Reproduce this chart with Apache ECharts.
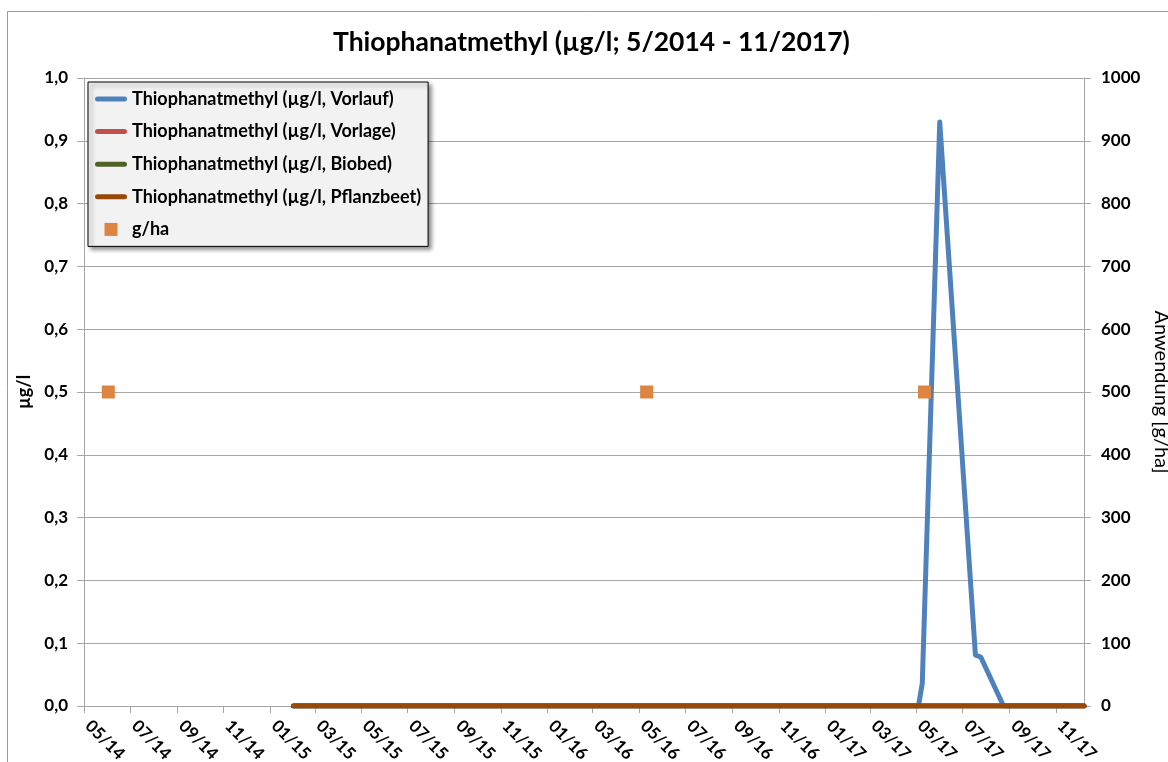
<!DOCTYPE html>
<html><head><meta charset="utf-8">
<script src="https://cdn.jsdelivr.net/npm/echarts@6/dist/echarts.min.js"></script>
<style>html,body{margin:0;padding:0;background:#fff}#c{width:1168px;height:762px}</style>
</head><body><div id="c"></div>
<script>
const titleText = 'Thiophanatmethyl (µg/l; 5/2014 - 11/2017)';
const leftAxisName = 'µg/l';
const rightAxisName = 'Anwendung [g/ha]';
const seriesNames = [
  'Thiophanatmethyl (µg/l, Vorlauf)',
  'Thiophanatmethyl (µg/l, Vorlage)',
  'Thiophanatmethyl (µg/l, Biobed)',
  'Thiophanatmethyl (µg/l, Pflanzbeet)',
  'g/ha'
];
const tickLabels = ['05/14','07/14','09/14','11/14','01/15','03/15','05/15','07/15','09/15','11/15',
  '01/16','03/16','05/16','07/16','09/16','11/16','01/17','03/17','05/17','07/17','09/17','11/17'];
const axisStart = '2014-05-01';
const axisEnd = '2017-12-08';

const vorlaufDates  = ['2015-02-01','2017-05-04','2017-05-09','2017-06-01','2017-06-27','2017-07-18','2017-07-25','2017-08-24','2017-12-08'];
const vorlaufValues = [0, 0, 0.036, 0.93, 0.46, 0.081, 0.078, 0, 0];
const vorlageDates  = ['2015-02-01','2017-12-08'];
const vorlageValues = [0, 0];
const biobedDates   = ['2015-02-01','2017-12-08'];
const biobedValues  = [0, 0];
const pflanzDates   = ['2015-02-01','2017-12-08'];
const pflanzValues  = [0, 0];
const applicationDates  = ['2014-06-02','2016-05-11','2017-05-12'];
const applicationValues = [500, 500, 500];

const colors = ['#4f81bd','#c0504d','#4f6228','#984807','#dd8440'];
const FONT = 'Lato, "Liberation Sans", sans-serif';
const LINE_ICON = 'path://M2.5,0 L29.5,0 A2.5,2.5 0 0 1 29.5,5 L2.5,5 A2.5,2.5 0 0 1 2.5,0 Z';
const SQUARE_ICON = 'path://M0,0 L10,0 L10,10 L0,10 Z';

function toTime(s){ const [y,m,d] = s.split('-').map(Number); return Date.UTC(y, m-1, d); }
function pairs(d, v){ return d.map((x,i)=>[toTime(x), v[i]]); }
function tickTime(lbl){ const [m,y] = lbl.split('/').map(Number); return Date.UTC(2000+y, m-1, 1); }
const tickTimes = tickLabels.map(tickTime);
function fmtTick(val){
  const i = tickTimes.findIndex(t => Math.abs(t - val) < 86400000);
  return i >= 0 ? tickLabels[i] : '';
}

const lineSeries = (name, data, color, z) => ({
  name, type:'line', data, yAxisIndex:0, showSymbol:false, symbol:'none', z,
  lineStyle:{color, width:5, cap:'round', join:'round'}, itemStyle:{color}, animation:false
});

const chart = echarts.init(document.getElementById('c'), null, {renderer:'canvas'});
chart.setOption({
  animation:false,
  backgroundColor:'#fff',
  title:{ text:titleText, left:333, top:29, padding:0,
    textStyle:{fontFamily:FONT, fontWeight:'bold', fontSize:26.5, color:'#000'} },
  graphic:[{ type:'rect', shape:{x:7.5,y:11.5,width:1200,height:800}, style:{fill:null, stroke:'#9a9a9a', lineWidth:1}, silent:true, z:-1 }],
  grid:{ left:84, right:84, top:78, bottom:56, containLabel:false, outerBoundsMode:'none' },
  legend:{
    orient:'vertical', left:88, top:82, padding:[8,7,8,7], itemGap:14.6,
    itemWidth:32, itemHeight:13,
    backgroundColor:'#f2f2f2', borderColor:'#000', borderWidth:1,
    shadowBlur:4, shadowColor:'rgba(0,0,0,0.45)', shadowOffsetX:3, shadowOffsetY:3,
    textStyle:{fontFamily:FONT, fontWeight:'bold', fontSize:18, color:'#000', lineHeight:18},
    data: seriesNames.map((n,i)=> ({name:n, icon: i===4 ? SQUARE_ICON : LINE_ICON, itemStyle:{color:colors[i], opacity:1}}))
  },
  xAxis:{
    type:'value', min:toTime(axisStart), max:toTime(axisEnd),
    axisLine:{show:true, onZero:false, lineStyle:{color:'#a6a6a6', width:1}},
    axisTick:{show:true, length:7, lineStyle:{color:'#a6a6a6'}, customValues:tickTimes},
    axisLabel:{ customValues:tickTimes, rotate:-45, margin:13, padding:[0,0,0,6], formatter:fmtTick,
      fontFamily:FONT, fontWeight:'bold', fontSize:17, color:'#000', showMinLabel:true, showMaxLabel:true },
    splitLine:{show:false}, minorTick:{show:false}
  },
  yAxis:[{
    type:'value', min:0, max:1, interval:0.1, position:'left',
    name:leftAxisName, nameLocation:'middle', nameGap:49, nameRotate:90,
    nameTextStyle:{fontFamily:FONT, fontWeight:'bold', fontSize:18, color:'#000'},
    axisLine:{show:true, lineStyle:{color:'#a6a6a6'}},
    axisTick:{show:true, length:7, lineStyle:{color:'#a6a6a6'}},
    axisLabel:{margin:16, formatter:v=>v.toFixed(1).replace('.',','), fontFamily:FONT, fontWeight:'bold', fontSize:17, color:'#000'},
    splitLine:{show:true, lineStyle:{color:'#a6a6a6', width:1}}
  },{
    type:'value', min:0, max:1000, interval:100, position:'right',
    name:rightAxisName, nameLocation:'middle', nameGap:64, nameRotate:-90,
    nameTextStyle:{fontFamily:FONT, fontSize:20, color:'#000'},
    axisLine:{show:true, lineStyle:{color:'#a6a6a6'}},
    axisTick:{show:true, length:7, lineStyle:{color:'#a6a6a6'}},
    axisLabel:{margin:17, formatter:v=>String(Math.round(v)), fontFamily:FONT, fontWeight:'bold', fontSize:17, color:'#000'},
    splitLine:{show:false}
  }],
  series:[
    lineSeries(seriesNames[0], pairs(vorlaufDates, vorlaufValues), colors[0], 2),
    lineSeries(seriesNames[1], pairs(vorlageDates, vorlageValues), colors[1], 3),
    lineSeries(seriesNames[2], pairs(biobedDates, biobedValues), colors[2], 4),
    lineSeries(seriesNames[3], pairs(pflanzDates, pflanzValues), colors[3], 5),
    { name:seriesNames[4], type:'scatter', yAxisIndex:1, symbol:'rect', symbolSize:13, z:6,
      data: pairs(applicationDates, applicationValues), itemStyle:{color:colors[4], opacity:1}, animation:false }
  ]
});
</script></body></html>
